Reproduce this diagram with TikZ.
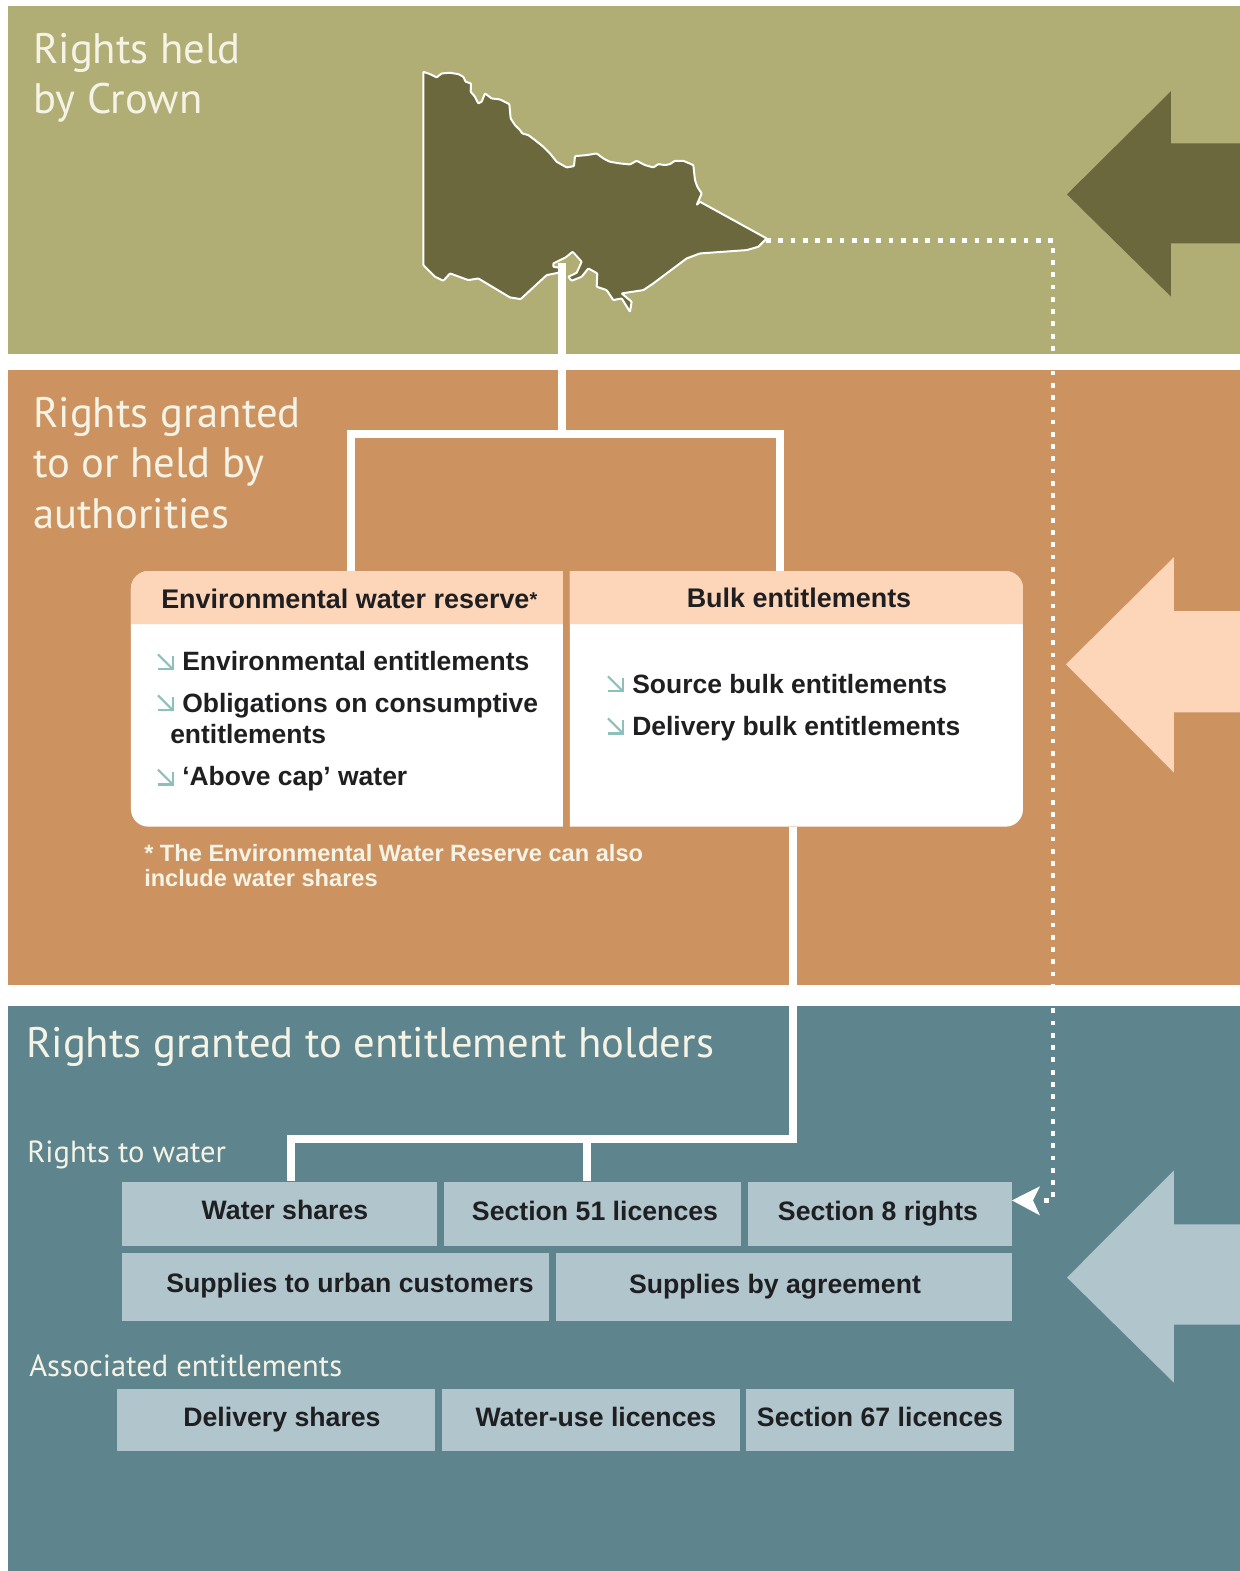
\documentclass[tikz,border=0pt]{standalone}
\usepackage{fontspec}
\setmainfont{Liberation Sans}
\newfontfamily\titlefont{PT Sans}
\usetikzlibrary{arrows.meta}
\definecolor{olivebg}{HTML}{B0AD75}
\definecolor{olivedk}{HTML}{6B683D}
\definecolor{orangebg}{HTML}{CC9360}
\definecolor{peach}{HTML}{FDD5B8}
\definecolor{tealbg}{HTML}{5E858D}
\definecolor{tealbox}{HTML}{B0C5CC}
\definecolor{bularrow}{HTML}{8CC0BA}
\definecolor{inktext}{HTML}{1F1F22}
\definecolor{cream}{HTML}{F5F3E6}
\tikzset{
  px/.style={x=0.75pt,y=-0.7515pt},
  band/.style={fill=#1,draw=none},
  bigarrow/.style={fill=#1,draw=none},
  ttl/.style={anchor=base west,inner sep=0pt,text=cream,font=\titlefont\fontsize{32}{33}\selectfont},
  sub/.style={anchor=base west,inner sep=0pt,text=cream,font=\titlefont\fontsize{22.9}{23}\selectfont},
  ent/.style={fill=tealbox,draw=none,inner sep=0pt,text=inktext,font=\bfseries\fontsize{20}{20}\selectfont,anchor=north west},
  itm/.style={anchor=base west,inner sep=0pt,text=inktext,font=\bfseries\fontsize{19.85}{20}\selectfont},
  bxt/.style={anchor=base,inner sep=0pt,text=inktext,font=\bfseries\fontsize{20}{20}\selectfont},
  hdr/.style={anchor=base west,inner sep=0pt,text=inktext,font=\bfseries\fontsize{20.2}{20}\selectfont},
  foot/.style={anchor=base west,inner sep=0pt,text=cream,font=\bfseries\fontsize{17.7}{18}\selectfont},
  link/.style={draw=white,line width=6.2pt},
  dots/.style={draw=white,line width=3.5pt,dash pattern=on 3.6pt off 5.6pt},
  bul/.style={draw=bularrow,line width=1.6pt}
}
\newcommand{\bularrow}[2]{%
  \draw[bul] (#1-15,#2-15) -- (#1,#2);
  \draw[bul] (#1-15,#2) -- (#1,#2) -- (#1,#2-13);}
\newcommand{\entbox}[7]{% name x1 y1 x2 y2 text textpos
  \node[ent,minimum width=#4*0.75pt-#2*0.75pt,minimum height=#5*0.7515pt-#3*0.7515pt] (#1) at (#2,#3) {};
  \node[bxt] (#1t) at (#7) {#6};}
\begin{document}
\begin{tikzpicture}[px]
\useasboundingbox (0,0) rectangle (1240,1567.9);
\fill[white] (0,0) rectangle (1240,1567.9);
% bands
\fill[band=olivebg] (8,6) rectangle (1240,353);
\fill[band=orangebg] (8,369) rectangle (1240,983);
\fill[band=tealbg] (8,1004) rectangle (1240,1568);
% big arrows
\fill[bigarrow=olivedk] (1240,143) -- (1171,143) -- (1171,91) -- (1067,194) -- (1171,296) -- (1171,243) -- (1240,243) -- cycle;
\fill[bigarrow=peach] (1240,610) -- (1174,610) -- (1174,556) -- (1066,663) -- (1174,771) -- (1174,711) -- (1240,711) -- cycle;
\fill[bigarrow=tealbox] (1240,1222) -- (1174,1222) -- (1174,1168) -- (1067,1275) -- (1174,1380) -- (1174,1322) -- (1240,1322) -- cycle;
% titles
\node[ttl] (t1a) at (33,63) {Rights held};
\node[ttl] (t1b) at (33,113) {by Crown};
\node[ttl] (t2a) at (33,427) {Rights granted};
\node[ttl] (t2b) at (33,477) {to or held by};
\node[ttl] (t2c) at (33,527) {authorities};
\node[ttl] (t3) at (26,1055) {Rights granted to entitlement holders};
\node[sub] (s1) at (27,1160) {Rights to water};
\node[sub] (s2) at (29,1374) {Associated entitlements};
% map
\begin{scope}[shift={(400,50)},x=0.25pt,y=-0.25pt]
\draw[fill=olivedk,draw=white,line width=1.5pt,line join=round,rounded corners=0.5pt]
 (70,65) -- (90,72) -- (110,82) -- (125,70) -- (150,68) -- (175,72) -- (190,80) -- (197,95) -- (213,100) -- (212,125) -- (225,140) -- (235,160) -- (245,155) -- (255,130) -- (275,145) -- (300,148) -- (328,162) -- (332,205) -- (345,225) -- (360,240) -- (367,250) -- (385,255) -- (405,270) -- (430,290) -- (450,310) -- (470,335) -- (500,352) -- (522,348) -- (525,318) -- (560,315) -- (590,310) -- (610,325) -- (630,335) -- (660,340) -- (690,343) -- (710,332) -- (735,345) -- (760,352) -- (775,342) -- (795,345) -- (810,342) -- (825,332) -- (850,332) -- (880,345) -- (885,390) -- (892,410) -- (905,430) -- (890,465) -- (900,455) -- (1100,565) -- (1075,590) -- (1040,600) -- (900,610) -- (860,625) -- (760,700) -- (730,720) -- (665,730) -- (695,755) -- (690,785) -- (665,745) -- (640,750) -- (620,720) -- (590,710) -- (592,670) -- (565,655) -- (545,680) -- (515,692) -- (505,680) -- (530,668) -- (545,635) -- (518,605) -- (497,622) -- (460,640) -- (460,650) -- (492,655) -- (475,668) -- (440,675) -- (362,747) -- (330,742) -- (235,685) -- (205,690) -- (150,670) -- (130,692) -- (105,680) -- (70,645) -- cycle;
\fill[olivebg] (500,625) -- (518,610) -- (540,635) -- (527,664) -- (502,676) -- cycle;
\end{scope}
% connector coordinates
\coordinate (mapfoot) at (562,262);
\coordinate (split) at (562,433);
\coordinate (envtop) at (351,570);
\coordinate (bulktop) at (780,570);
\coordinate (bulkbot) at (793,825);
\coordinate (lowturn) at (793,1137);
\coordinate (maptip) at (766,240);
\coordinate (dotcorner) at (1053,240);
\coordinate (dotlow) at (1053,1198);
\coordinate (waterj) at (291,1137);
\coordinate (waterb) at (291,1179);
\coordinate (s51j) at (587,1137);
\coordinate (s51b) at (587,1179);
\coordinate (dotend) at (1038,1198);
% white connectors
\draw[link] (mapfoot) -- (split);
\draw[link,line cap=rect] (envtop) |- (split) -| (bulktop);
\draw[link] (bulkbot) -- (lowturn) -- (waterj) -- (waterb);
\draw[link] (s51j) -- (s51b);
% dotted connector
\draw[dots] (maptip) -- (dotcorner) -- (dotlow) -- (dotend);
\fill[white] (1012,1198) -- (1040,1184) -- (1033,1198) -- (1040,1213) -- cycle;
% panels
\fill[white] (563,570) {[rounded corners=13pt] -- (131,570) -- (131,825)} -- (563,825) -- cycle;
\fill[white] (570,570) {[rounded corners=13pt] -- (1023,570) -- (1023,825)} -- (570,825) -- cycle;
\fill[peach] (563,623) -- (563,570) {[rounded corners=13pt] -- (131,570) -- (131,640)} -- (131,623) -- cycle;
\fill[peach] (570,623) -- (570,570) {[rounded corners=13pt] -- (1023,570) -- (1023,640)} -- (1023,623) -- cycle;
\node[hdr] (h1) at (161,607) {Environmental water reserve\raisebox{1pt}{\fontsize{15}{15}\selectfont*}};
\node[hdr,anchor=base] (h2) at (799,606) {Bulk entitlements};
\bularrow{173}{668}
\node[itm] (i1) at (182,669) {Environmental entitlements};
\bularrow{173}{709}
\node[itm] (i2) at (182,711) {Obligations on consumptive};
\node[itm] (i2b) at (170,742) {entitlements};
\bularrow{173}{783}
\node[itm] (i3) at (182,784) {‘Above cap’ water};
\bularrow{623}{690}
\node[itm] (i4) at (632,692) {Source bulk entitlements};
\bularrow{623}{732}
\node[itm] (i5) at (632,734) {Delivery bulk entitlements};
\node[foot] (f1) at (144,860) {* The Environmental Water Reserve can also};
\node[foot] (f2) at (144,885) {include water shares};
% entitlement boxes
\entbox{b1}{122}{1179}{437}{1243}{Water shares}{285,1217}
\entbox{b2}{444}{1179}{741}{1243}{Section 51 licences}{595,1218}
\entbox{b3}{748}{1179}{1012}{1243}{Section 8 rights}{878,1218}
\entbox{b4}{122}{1250}{549}{1318}{Supplies to urban customers}{350,1290}
\entbox{b5}{556}{1250}{1012}{1318}{Supplies by agreement}{775,1291}
\entbox{b6}{117}{1386}{435}{1448}{Delivery shares}{282,1424}
\entbox{b7}{442}{1386}{740}{1448}{Water-use licences}{596,1424}
\entbox{b8}{746}{1386}{1014}{1448}{Section 67 licences}{880,1424}
\end{tikzpicture}
\end{document}
